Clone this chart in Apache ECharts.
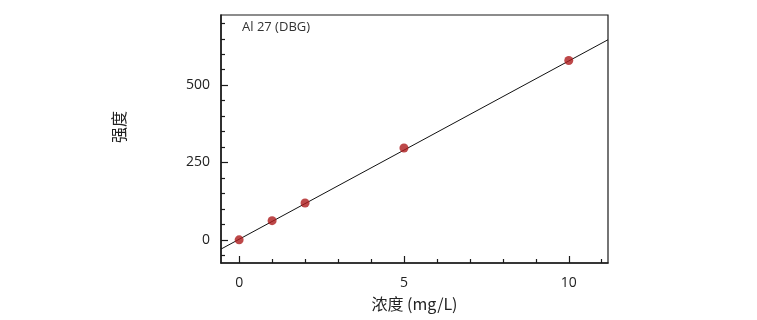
<!DOCTYPE html>
<html>
<head>
<meta charset="utf-8">
<script src="https://cdn.jsdelivr.net/npm/echarts@6/dist/echarts.min.js"></script>
<style>html,body{margin:0;padding:0;background:#fff;}#c{width:757px;height:320px;}</style>
</head>
<body>
<div id="c"></div>
<script>
var seriesLabel = 'Al 27 (DBG)';
var xName = '浓度 (mg/L)';
var yName = '强度';
var concX = [0, 1, 2, 5, 10];
var intensityY = [0, 62, 119, 297, 580];
var fitX = [-0.55, 11.19];
var fitY = [-30, 647];
var xMajorTicks = [0, 5, 10];
var xMinorTicks = [1, 2, 3, 4, 6, 7, 8, 9, 11];
var yMajorTicks = [0, 250, 500];
var yMinorTicks = [-50, 50, 100, 150, 200, 300, 350, 400, 450, 550, 600, 650, 700];
var xRange = [-0.55, 11.19];
var yRange = [-75, 727];

var font = '"Open Sans", "Noto Sans CJK SC", sans-serif';
var cjk = '"Noto Sans CJK SC", sans-serif';
var axisCol = '#1a1a1a';

function xAx(major) {
  return {
    type: 'value', min: xRange[0], max: xRange[1], position: 'bottom',
    name: major ? xName : '', nameLocation: 'middle', nameGap: 33,
    nameTextStyle: {fontFamily: cjk, fontSize: 16, color: '#222'},
    axisLine: {show: major, onZero: false, lineStyle: {color: axisCol, width: 1.5}},
    axisTick: {show: true, inside: true, length: major ? 7 : 4,
      customValues: major ? xMajorTicks : xMinorTicks,
      lineStyle: {color: axisCol, width: 1.2}},
    axisLabel: {show: major, customValues: xMajorTicks, margin: 13,
      fontFamily: font, fontSize: 14, color: '#222'},
    splitLine: {show: false}
  };
}
function yAx(major) {
  return {
    type: 'value', min: yRange[0], max: yRange[1], position: 'left',
    axisLine: {show: major, onZero: false, lineStyle: {color: axisCol, width: 1.5}},
    axisTick: {show: true, inside: true, length: major ? 7 : 4,
      customValues: major ? yMajorTicks : yMinorTicks,
      lineStyle: {color: axisCol, width: 1.2}},
    axisLabel: {show: major, customValues: yMajorTicks, margin: 11,
      fontFamily: font, fontSize: 14, color: '#222'},
    splitLine: {show: false}
  };
}

var fitData = fitX.map(function (x, i) { return [x, fitY[i]]; });
var pts = concX.map(function (x, i) { return [x, intensityY[i]]; });

var chart = echarts.init(document.getElementById('c'), null, {renderer: 'canvas'});
chart.setOption({
  animation: false,
  backgroundColor: '#fff',
  title: {text: seriesLabel, left: 237, top: 16,
    textStyle: {fontFamily: font, fontSize: 13, fontWeight: 'normal', color: '#333'}},
  graphic: [{type: 'text', x: 119, y: 127, rotation: Math.PI / 2,
    style: {text: yName, fontFamily: cjk, fontSize: 16, fill: '#222',
      align: 'center', verticalAlign: 'middle'}}],
  grid: {left: 221, right: 149, top: 15, bottom: 57, show: true,
    borderColor: axisCol, borderWidth: 1.2, backgroundColor: 'transparent'},
  xAxis: [xAx(true), xAx(false)],
  yAxis: [yAx(true), yAx(false)],
  series: [
    {type: 'line', data: fitData, showSymbol: false, symbol: 'none', clip: true,
      lineStyle: {color: '#111', width: 1}, z: 2},
    {type: 'scatter', data: pts, symbol: 'circle', symbolSize: 9,
      itemStyle: {color: '#ac1a1c'}, z: 3}
  ]
});
</script>
</body>
</html>
